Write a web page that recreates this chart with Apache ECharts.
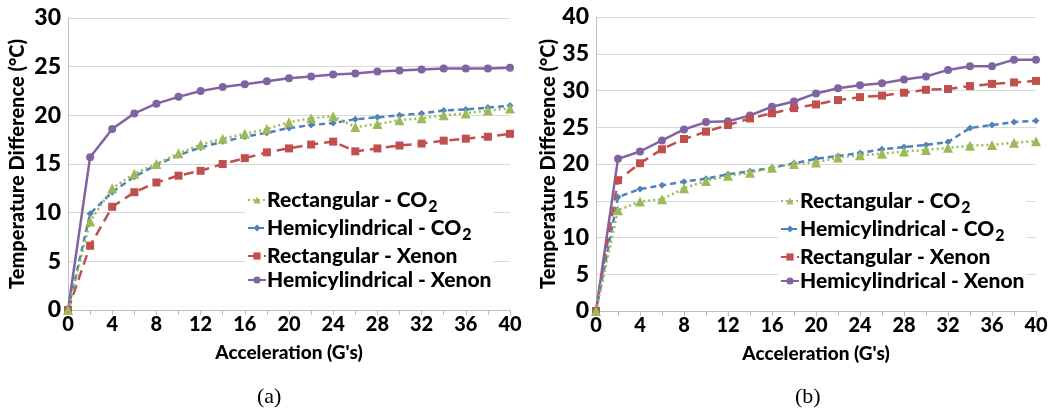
<!DOCTYPE html>
<html>
<head>
<meta charset="utf-8">
<script src="https://cdn.jsdelivr.net/npm/echarts@6/dist/echarts.min.js"></script>
<style>
  html, body { margin: 0; padding: 0; background: #fff; }
  #chart { width: 1053px; height: 411px; }
</style>
</head>
<body>
<div id="chart"></div>
<script>
// Acceleration steps (G's), shared by both panels
const accel = [0, 2, 4, 6, 8, 10, 12, 14, 16, 18, 20, 22, 24, 26, 28, 30, 32, 34, 36, 38, 40];

// Panel (a): temperature difference (°C)
const aRectCO2   = [0, 9.1, 12.5, 14.0, 15.0, 16.1, 17.0, 17.6, 18.1, 18.6, 19.3, 19.7, 19.9, 18.8, 19.1, 19.5, 19.7, 20.0, 20.2, 20.5, 20.7];
const aHemiCO2   = [0, 9.9, 12.1, 13.7, 14.9, 15.9, 16.7, 17.3, 17.8, 18.2, 18.7, 19.0, 19.2, 19.6, 19.8, 20.0, 20.2, 20.5, 20.6, 20.8, 21.0];
const aRectXenon = [0, 6.6, 10.6, 12.1, 13.1, 13.8, 14.3, 15.0, 15.6, 16.2, 16.6, 17.0, 17.3, 16.3, 16.6, 16.9, 17.1, 17.4, 17.6, 17.8, 18.1];
const aHemiXenon = [0, 15.7, 18.6, 20.2, 21.2, 21.9, 22.5, 22.9, 23.2, 23.5, 23.8, 24.0, 24.2, 24.3, 24.5, 24.6, 24.7, 24.8, 24.8, 24.8, 24.9];

// Panel (b): temperature difference (°C)
const bRectCO2   = [0, 13.7, 14.9, 15.2, 16.7, 17.7, 18.4, 18.8, 19.5, 20.0, 20.2, 20.9, 21.2, 21.4, 21.7, 21.9, 22.2, 22.5, 22.6, 22.9, 23.1];
const bHemiCO2   = [0, 15.5, 16.6, 17.1, 17.6, 18.0, 18.6, 19.0, 19.5, 20.1, 20.7, 21.1, 21.5, 22.0, 22.3, 22.6, 23.0, 24.9, 25.3, 25.7, 25.9];
const bRectXenon = [0, 17.8, 20.1, 22.0, 23.4, 24.4, 25.3, 26.2, 26.9, 27.6, 28.1, 28.7, 29.1, 29.3, 29.7, 30.1, 30.2, 30.6, 30.9, 31.1, 31.3];
const bHemiXenon = [0, 20.7, 21.7, 23.2, 24.7, 25.7, 25.8, 26.6, 27.8, 28.5, 29.6, 30.3, 30.7, 31.0, 31.5, 31.9, 32.8, 33.3, 33.3, 34.2, 34.2];

const seriesNames = ['Rectangular - CO2', 'Hemicylindrical - CO2', 'Rectangular - Xenon', 'Hemicylindrical - Xenon'];
const yTitle = 'Temperature Difference (°C)';
const xTitle = "Acceleration (G's)";

const FONT = 'Lato';
const W = 900;
const styles = [
  { color: '#9BBB59', type: [2, 3], symbol: 'triangle', size: 10 },
  { color: '#4F81BD', type: [6, 4], symbol: 'diamond', size: 7 },
  { color: '#C0504D', type: [10, 6], symbol: 'rect', size: 8 },
  { color: '#8064A2', type: 'solid', symbol: 'circle', size: 8 }
];

function pairs(vals) { return accel.map((x, i) => [x, vals[i]]); }

function makeSeries(sets, axisIdx) {
  return sets.map((vals, k) => ({
    name: seriesNames[k],
    type: 'line',
    xAxisIndex: axisIdx,
    yAxisIndex: axisIdx,
    data: pairs(vals),
    symbol: styles[k].symbol,
    symbolSize: styles[k].size,
    itemStyle: { color: styles[k].color },
    lineStyle: { color: styles[k].color, width: 2.5, type: styles[k].type },
    z: 10 - k
  }));
}

function xAxisDef(gridIndex) {
  return {
    type: 'value', gridIndex, min: 0, max: 40, interval: 4,
    name: xTitle, nameLocation: 'middle', nameGap: 33,
    nameTextStyle: { fontFamily: FONT, fontWeight: W, fontSize: 19, color: '#000' },
    axisLine: { lineStyle: { color: '#bfbfbf', width: 1 } },
    axisTick: { show: true, length: 5, inside: false, lineStyle: { color: '#bfbfbf' } },
    minorTick: { show: true, splitNumber: 2, length: 5, lineStyle: { color: '#bfbfbf' } },
    splitLine: { show: false },
    axisLabel: { fontFamily: FONT, fontWeight: W, fontSize: 20, color: '#000', margin: 5 }
  };
}

function yAxisDef(gridIndex, max, gap) {
  return {
    type: 'value', gridIndex, min: 0, max, interval: 5,
    name: yTitle, nameLocation: 'middle', nameGap: gap, nameRotate: 90,
    nameTextStyle: { fontFamily: FONT, fontWeight: W, fontSize: 20, color: '#000' },
    axisLine: { show: true, lineStyle: { color: '#bfbfbf', width: 1 } },
    axisTick: { show: false },
    splitLine: { lineStyle: { color: '#d9d9d9', width: 1 } },
    axisLabel: { fontFamily: FONT, fontWeight: W, fontSize: 23, color: '#000', margin: 7 }
  };
}

// Legend labels: the trailing "2" of CO2 is set as a lowered subscript
function legendDef(left, top) {
  return {
    data: seriesNames,
    orient: 'vertical',
    left, top,
    itemWidth: 18, itemHeight: 9, itemGap: 2,
    backgroundColor: '#fff',
    padding: [2, 2, 2, 2],
    selectedMode: false,
    formatter: name => {
      const m = name.match(/^(.*CO)2$/);
      return m ? '{t|' + m[1] + '}{s|2}' : '{t|' + name + '}';
    },
    textStyle: {
      fontFamily: FONT, fontWeight: W, fontSize: 21, color: '#000', lineHeight: 22, padding: [0, 0, 0, -4],
      rich: {
        t: { fontFamily: FONT, fontWeight: W, fontSize: 21, color: '#000', lineHeight: 22 },
        s: { fontFamily: FONT, fontWeight: W, fontSize: 16, color: '#000', lineHeight: 12, verticalAlign: 'top', padding: [10, 0, 0, 1] }
      }
    }
  };
}

const chart = echarts.init(document.getElementById('chart'), null, { renderer: 'canvas' });
chart.setOption({
  backgroundColor: '#fff',
  animation: false,
  grid: [
    { left: 68, right: 543, top: 18, bottom: 101 },
    { left: 596, right: 17, top: 17, bottom: 100 }
  ],
  xAxis: [xAxisDef(0), xAxisDef(1)],
  yAxis: [yAxisDef(0, 30, 40), yAxisDef(1, 40, 36)],
  legend: [legendDef(245, 187), legendDef(778, 188)],
  series: makeSeries([aRectCO2, aHemiCO2, aRectXenon, aHemiXenon], 0)
    .concat(makeSeries([bRectCO2, bHemiCO2, bRectXenon, bHemiXenon], 1)),
  graphic: [
    { type: 'text', left: 257, top: 386, style: { text: '(a)', font: '22px "Liberation Serif"', fill: '#000' } },
    { type: 'text', left: 795, top: 386, style: { text: '(b)', font: '22px "Liberation Serif"', fill: '#000' } }
  ]
});
</script>
</body>
</html>
